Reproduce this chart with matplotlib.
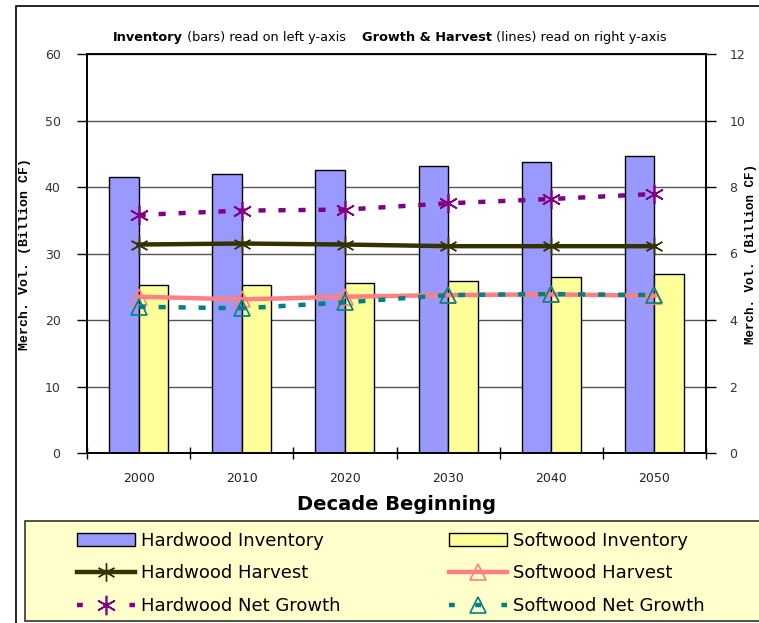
import matplotlib
matplotlib.use("Agg")
import matplotlib.pyplot as plt
import matplotlib.text as mtext
import numpy as np
from matplotlib.patches import Patch, Rectangle
from matplotlib.lines import Line2D

decades = ["2000", "2010", "2020", "2030", "2040", "2050"]
hardwood_inventory = [41.5, 42.0, 42.6, 43.2, 43.8, 44.7]
softwood_inventory = [25.3, 25.3, 25.6, 25.9, 26.5, 26.9]
hardwood_harvest = [6.27, 6.30, 6.27, 6.22, 6.22, 6.22]
softwood_harvest = [4.70, 4.62, 4.70, 4.75, 4.77, 4.73]
hardwood_growth = [7.16, 7.29, 7.32, 7.51, 7.64, 7.79]
softwood_growth = [4.40, 4.35, 4.53, 4.75, 4.78, 4.75]

fig = plt.figure(figsize=(7.59, 6.23), dpi=100)
fig.patch.set_facecolor("white")

# outer frame
fig.add_artist(Rectangle((16/759, -0.05), 1.2, 0.05 + (623-6)/623, transform=fig.transFigure,
                         fill=False, edgecolor="black", lw=1.2))
# legend box
fig.add_artist(Rectangle((25/759, 2/623), 1.2, (621-521)/623, transform=fig.transFigure,
                         facecolor="#FFFFCC", edgecolor="#333333", lw=1.2))

ax = fig.add_axes([87/759, 1-453/623, (706-87)/759, (453-54)/623])
ax2 = ax.twinx()

x = np.arange(len(decades)) + 0.5
w = 0.286
ax.bar(x - w/2, hardwood_inventory, w, color="#9999FF", edgecolor="black", lw=1, zorder=2)
ax.bar(x + w/2, softwood_inventory, w, color="#FFFF99", edgecolor="black", lw=1, zorder=2)
ax.set_xlim(0, 6)
ax.set_ylim(0, 60)
ax.set_yticks(range(0, 61, 10))
ax.yaxis.grid(True, color="#555555", lw=1)
ax.set_axisbelow(True)
ax.set_xticks(np.arange(0, 7))
ax.set_xticklabels([])
ax.set_xticks(x, minor=True)
ax.set_xticklabels(decades, minor=True, fontsize=9, color="#222222")
ax.tick_params(axis="x", which="major", direction="inout", length=8, width=1)
ax.tick_params(axis="x", which="minor", length=0, pad=14)
ax.tick_params(axis="y", direction="out", length=7, width=1, labelsize=9, pad=12, labelcolor="#333333")
ax.set_ylabel("Merch. Vol. (Billion CF)", fontfamily="Liberation Mono", fontweight="bold", fontsize=9.5)
ax.yaxis.set_label_coords((31-87)/619, 0.5)
ax.set_xlabel("Decade Beginning", fontsize=14, fontweight="bold", labelpad=7)

ax2.set_ylim(0, 12)
ax2.set_yticks(range(0, 13, 2))
ax2.tick_params(axis="y", direction="out", length=7, width=1, labelsize=9, pad=10, labelcolor="#333333")
ax2.set_ylabel("Merch. Vol. (Billion CF)", fontfamily="Liberation Mono", fontweight="bold", fontsize=9)
ax2.yaxis.set_label_coords((745-87)/619, 0.5)

ast = (6, 2, 0)
ax2.plot(x, hardwood_harvest, color="#333300", lw=3.2, marker=ast, ms=13, mew=1, zorder=3)
l1, = ax2.plot(x, hardwood_growth, color="#800080", lw=3.2, marker=ast, ms=14, mew=1.2, zorder=3)
l1.set_dashes((1.6, 2.9))
ax2.plot(x, softwood_harvest, color="#FF8080", lw=3.2, marker="^", ms=11, mfc="none", mew=1.2, zorder=3)
l2, = ax2.plot(x, softwood_growth, color="#008080", lw=3.2, marker="^", ms=11, mfc="none", mew=1.2, zorder=3)
l2.set_dashes((1.6, 2.9))

for a in (ax, ax2):
    for s in a.spines.values():
        s.set_linewidth(1.2)

# title pieces
parts = [("Inventory", "bold"), (" (bars) read on left y-axis    ", "normal"),
         ("Growth & Harvest", "bold"), (" (lines) read on right y-axis", "normal")]
prev = fig.text(113/759, 1-44/623, parts[0][0], fontsize=9.3, fontweight="bold", va="bottom")
for txt, wt in parts[1:]:
    prev = fig.add_artist(mtext.Annotation(txt, xy=(1, 0), xycoords=prev,
                                           fontsize=9.3, fontweight=wt, va="bottom"))

hw_handles = [Patch(facecolor="#9999FF", edgecolor="black"),
              Line2D([], [], color="#333300", lw=3.2, marker=ast, ms=13, mew=1),
              Line2D([], [], color="#800080", lw=3.2, marker=ast, ms=14, mew=1.2, dashes=(1.3, 4.6))]
sw_handles = [Patch(facecolor="#FFFF99", edgecolor="black"),
              Line2D([], [], color="#FF8080", lw=3.2, marker="^", ms=11, mfc="none", mew=1.2),
              Line2D([], [], color="#008080", lw=3.2, marker="^", ms=11, mfc="none", mew=1.2, dashes=(1.3, 4.6))]
hw_labels = ["Hardwood Inventory", "Hardwood Harvest", "Hardwood Net Growth"]
sw_labels = ["Softwood Inventory", "Softwood Harvest", "Softwood Net Growth"]
common = dict(loc="upper left", frameon=False, fontsize=13, handlelength=3.2, handletextpad=0.35,
              labelspacing=0.8, borderpad=0, borderaxespad=0)
leg1 = fig.legend(hw_handles, hw_labels, bbox_to_anchor=(77/759, 1-532/623), **common)
leg2 = fig.legend(sw_handles, sw_labels, bbox_to_anchor=(449/759, 1-532/623), **common)

fig.savefig("out.png", dpi=100)
